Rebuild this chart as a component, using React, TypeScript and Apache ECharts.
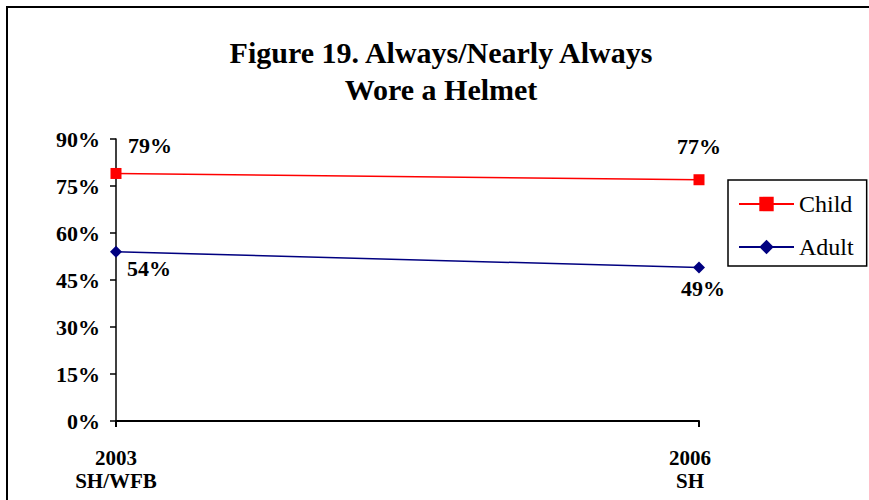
import React, { useEffect, useRef } from "react";
import * as echarts from "echarts";

const categories = ["2003\nSH/WFB", "2006\nSH"];
const childValues = [79, 77];
const adultValues = [54, 49];
const seriesNames = ["Child", "Adult"];
const yTicks = { min: 0, max: 90, interval: 15 };

// label placement (style, not data)
const childLabelOffsets = [[34, -28], [0, -33]];
const adultLabelOffsets = [[33, 17], [4, 21]];
const categoryLabelPadding = [[0, 0, 0, 0], [0, 18, 0, 0]];

const FONT = "'Liberation Serif', 'Times New Roman', serif";

export default function App() {
  const ref = useRef<HTMLDivElement>(null);
  useEffect(() => {
    if (!ref.current) return;
    const chart = echarts.init(ref.current, undefined, { renderer: "svg" });
    const labelStyle = {
      show: true,
      position: "inside",
      formatter: "{c}%",
      fontFamily: FONT,
      fontWeight: "bold",
      fontSize: 22,
      color: "#000",
    };
    const mk = (vals: number[], offs: number[][]) =>
      vals.map((v, i) => ({ value: v, label: { ...labelStyle, offset: offs[i] } }));
    chart.setOption({
      animation: false,
      backgroundColor: "#fff",
      title: {
        text: "Figure 19. Always/Nearly Always\nWore a Helmet",
        left: 441,
        textAlign: "center",
        top: 34,
        padding: 0,
        textStyle: {
          fontFamily: FONT,
          fontWeight: "bold",
          fontSize: 30,
          lineHeight: 37,
          color: "#000",
        },
      },
      legend: {
        data: seriesNames,
        orient: "vertical",
        left: 728,
        top: 180,
        padding: [12, 13, 7, 10],
        borderColor: "#000",
        borderWidth: 1.5,
        itemWidth: 55,
        itemHeight: 18,
        itemGap: 19,
        textStyle: {
          fontFamily: FONT,
          fontSize: 24,
          lineHeight: 24,
          color: "#000",
        },
      },
      grid: { left: 116, right: 170, top: 139, bottom: 79 },
      xAxis: {
        type: "category",
        data: categories.map((c, i) => ({
          value: c,
          textStyle: { padding: categoryLabelPadding[i] },
        })),
        boundaryGap: false,
        axisLine: { lineStyle: { color: "#000", width: 2 } },
        axisTick: { show: true, length: 6, lineStyle: { color: "#000", width: 2 } },
        axisLabel: {
          margin: 25,
          fontFamily: FONT,
          fontWeight: "bold",
          fontSize: 21,
          lineHeight: 23,
          color: "#000",
        },
        splitLine: { show: false },
      },
      yAxis: {
        type: "value",
        min: yTicks.min,
        max: yTicks.max,
        interval: yTicks.interval,
        axisLine: { show: true, lineStyle: { color: "#000", width: 1.5 } },
        axisTick: { show: true, length: 6, lineStyle: { color: "#000", width: 1.5 } },
        axisLabel: {
          margin: 16,
          formatter: "{value}%",
          fontFamily: FONT,
          fontWeight: "bold",
          fontSize: 22,
          color: "#000",
        },
        splitLine: { show: false },
      },
      series: [
        {
          name: seriesNames[0],
          type: "line",
          data: mk(childValues, childLabelOffsets),
          color: "#FF0000",
          symbol: "rect",
          symbolSize: 11,
          lineStyle: { width: 1.5, color: "#FF0000" },
          itemStyle: { color: "#FF0000" },
        },
        {
          name: seriesNames[1],
          type: "line",
          data: mk(adultValues, adultLabelOffsets),
          color: "#000080",
          symbol: "diamond",
          symbolSize: 12,
          lineStyle: { width: 1.5, color: "#000080" },
          itemStyle: { color: "#000080" },
        },
      ],
      graphic: [
        {
          type: "rect",
          shape: { x: 7, y: 7, width: 900, height: 600 },
          style: { fill: "none", stroke: "#000", lineWidth: 2 },
          silent: true,
        },
      ],
    });
    return () => chart.dispose();
  }, []);
  return (
    <div
      ref={ref}
      style={{ position: "absolute", left: 0, top: 0, width: 869, height: 500 }}
    />
  );
}
